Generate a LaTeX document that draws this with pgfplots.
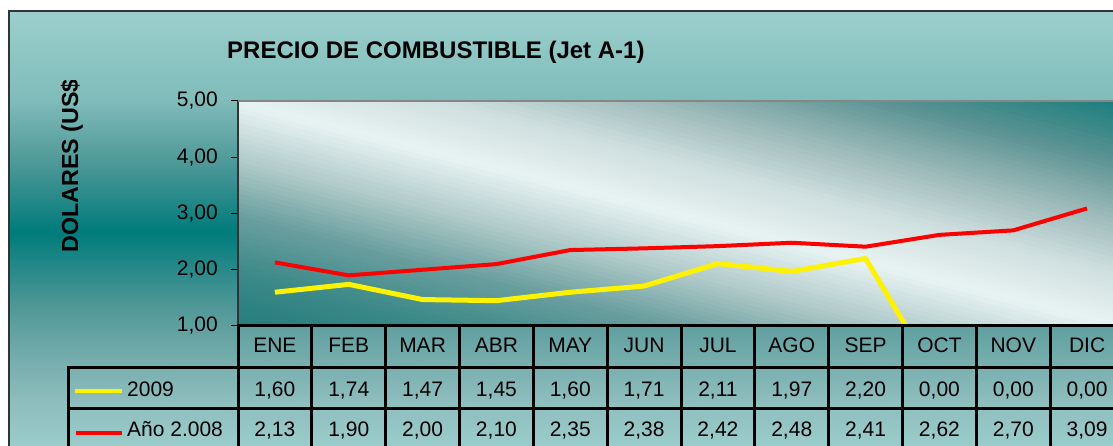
\documentclass[border=0pt]{standalone}
\usepackage{pgfplots}
\pgfplotsset{compat=1.18}
\usepackage{fontspec}
\setmainfont{Liberation Sans}
\definecolor{b1}{HTML}{9BCFCD}
\definecolor{b2}{HTML}{80BCBA}
\definecolor{b3}{HTML}{4C9797}
\definecolor{b4}{HTML}{007B7B}
\definecolor{b5}{HTML}{4A9595}
\definecolor{b6}{HTML}{6AA5A5}
\definecolor{b7}{HTML}{8DBDBD}
\definecolor{b8}{HTML}{9CCFCD}
\definecolor{g0}{HTML}{257D7D}
\definecolor{g1}{HTML}{3C8888}
\definecolor{g2}{HTML}{6A9E9E}
\definecolor{g3}{HTML}{B0C9C9}
\definecolor{g4}{HTML}{E8F3F3}
\definecolor{g5}{HTML}{CFDEDE}
\definecolor{g6}{HTML}{98B6B6}
\definecolor{g7}{HTML}{5A9292}
\definecolor{g8}{HTML}{1B7E7E}
\definecolor{framec}{HTML}{333333}
\definecolor{topline}{HTML}{868686}
\newcommand{\tfont}{\fontsize{21}{24}\selectfont}
\begin{document}
\begin{tikzpicture}
\clip (0pt,0pt) rectangle (1113pt,446pt);
\fill[white] (0pt,0pt) rectangle (1113pt,446pt);
% outer background
\shade[top color=b1,bottom color=b2] (9pt,346pt) rectangle (1130pt,435pt);
\shade[top color=b2,bottom color=b3] (9pt,281pt) rectangle (1130pt,346.2pt);
\shade[top color=b3,bottom color=b4] (9pt,214pt) rectangle (1130pt,281.2pt);
\shade[top color=b4,bottom color=b5] (9pt,146pt) rectangle (1130pt,214.2pt);
\shade[top color=b5,bottom color=b6] (9pt,106pt) rectangle (1130pt,146.2pt);
\shade[top color=b6,bottom color=b7] (9pt,46pt) rectangle (1130pt,106.2pt);
\shade[top color=b7,bottom color=b8] (9pt,-7pt) rectangle (1130pt,46.2pt);
\draw[line width=2pt, framec] (9pt,-20pt) -- (9pt,435pt) -- (1130pt,435pt);
% plot area diagonal gradient (strips)
\begin{scope}[x=1pt, y=1pt]
\clip (238,120) rectangle (1124,345);
\foreach \ua/\ub/\ca/\cb in {0/0.12/g0/g1, 0.12/0.25/g1/g2, 0.25/0.37/g2/g3, 0.37/0.5/g3/g4, 0.5/0.62/g4/g5, 0.62/0.75/g5/g6, 0.75/0.87/g6/g7, 0.87/1/g7/g8} {
  \foreach \j in {0,...,11} {
    \pgfmathsetmacro\sa{2*(\ua+(\ub-\ua)*\j/12)-0.01}
    \pgfmathsetmacro\sb{2*(\ua+(\ub-\ua)*(\j+1)/12)+0.01}
    \pgfmathsetmacro\tt{(\j+0.5)*100/12}
    \fill[\cb!\tt!\ca] ({238+886*(\sa+1)},-105) -- ({238+886*(\sb+1)},-105) -- ({238+886*(\sb-2)},570) -- ({238+886*(\sa-2)},570) -- cycle;
  }
}
\end{scope}
% title
\node[anchor=base west, inner sep=0pt, font=\fontsize{24}{27}\selectfont\bfseries] at (227pt,387pt) {PRECIO DE COMBUSTIBLE (Jet A-1)};
% y label (clipped)
\begin{scope}
\clip (0pt,0pt) rectangle (230pt,365pt);
\node[rotate=90, anchor=base west, inner sep=0pt, font=\fontsize{23.3}{26}\selectfont\bfseries] at (78pt,193pt) {DOLARES (US\$)};
\end{scope}
\begin{axis}[
  at={(238pt,120pt)}, anchor=south west,
  scale only axis, width=886pt, height=225pt,
  xmin=-0.5, xmax=11.5, ymin=1, ymax=5,
  axis line style={draw=none},
  xtick=\empty,
  ytick={1,2,3,4,5}, ytick pos=left,
  tick align=outside, major tick length=7pt,
  tick style={black, line width=1pt},
  yticklabel={\pgfmathprintnumber[fixed,fixed zerofill,precision=2,use comma,assume math mode=true]{\tick}},
  yticklabel style={font=\tfont, anchor=east, inner sep=0pt, xshift=-13pt},
]
\addplot[color=yellow, line width=5pt, line join=round] coordinates {
(0,1.60) (1,1.74) (2,1.47) (3,1.45) (4,1.60) (5,1.71) (6,2.11) (7,1.97) (8,2.20) (9,0.00) (10,0.00) (11,0.00)};
\addplot[color=red, line width=4pt, line join=round] coordinates {
(0,2.13) (1,1.90) (2,2.00) (3,2.10) (4,2.35) (5,2.38) (6,2.42) (7,2.48) (8,2.41) (9,2.62) (10,2.70) (11,3.09)};
\end{axis}
% axis lines
\draw[line width=1.5pt, framec] (238pt,120pt) -- (238pt,345pt);
\draw[line width=2pt, topline] (238pt,345pt) -- (1130pt,345pt);
% data table
\begin{scope}[x=1pt, y=1pt]
\begin{scope}[line width=3pt, black]
\draw (236.5,120) -- (1130,120);
\draw (68,78) -- (1130,78);
\draw (68,37) -- (1130,37);
\draw (68,-4) -- (1130,-4);
\draw (68,79.5) -- (68,-20);
\foreach \k in {0,...,12} {
  \draw ({238+\k*73.833},121.5) -- ({238+\k*73.833},-20);
}
\end{scope}
\foreach \m [count=\i from 0] in {ENE,FEB,MAR,ABR,MAY,JUN,JUL,AGO,SEP,OCT,NOV,DIC} {
  \node[anchor=base, inner sep=0pt, font=\tfont] at ({238+(\i+0.5)*73.833},93) {\m};
}
\foreach \v [count=\i from 0] in {1{,}60,1{,}74,1{,}47,1{,}45,1{,}60,1{,}71,2{,}11,1{,}97,2{,}20,0{,}00,0{,}00,0{,}00} {
  \node[anchor=base, inner sep=0pt, font=\tfont] at ({238+(\i+0.5)*73.833},49) {\v};
}
\foreach \v [count=\i from 0] in {2{,}13,1{,}90,2{,}00,2{,}10,2{,}35,2{,}38,2{,}42,2{,}48,2{,}41,2{,}62,2{,}70,3{,}09} {
  \node[anchor=base, inner sep=0pt, font=\tfont] at ({238+(\i+0.5)*73.833},9) {\v};
}
\draw[yellow, line width=4pt] (75,55) -- (122,55);
\draw[red, line width=4pt] (76,13) -- (122,13);
\node[anchor=base west, inner sep=0pt, font=\tfont] at (127,49) {2009};
\node[anchor=base west, inner sep=0pt, font=\tfont] at (127,9) {Año 2.008};
\end{scope}
\end{tikzpicture}
\end{document}
